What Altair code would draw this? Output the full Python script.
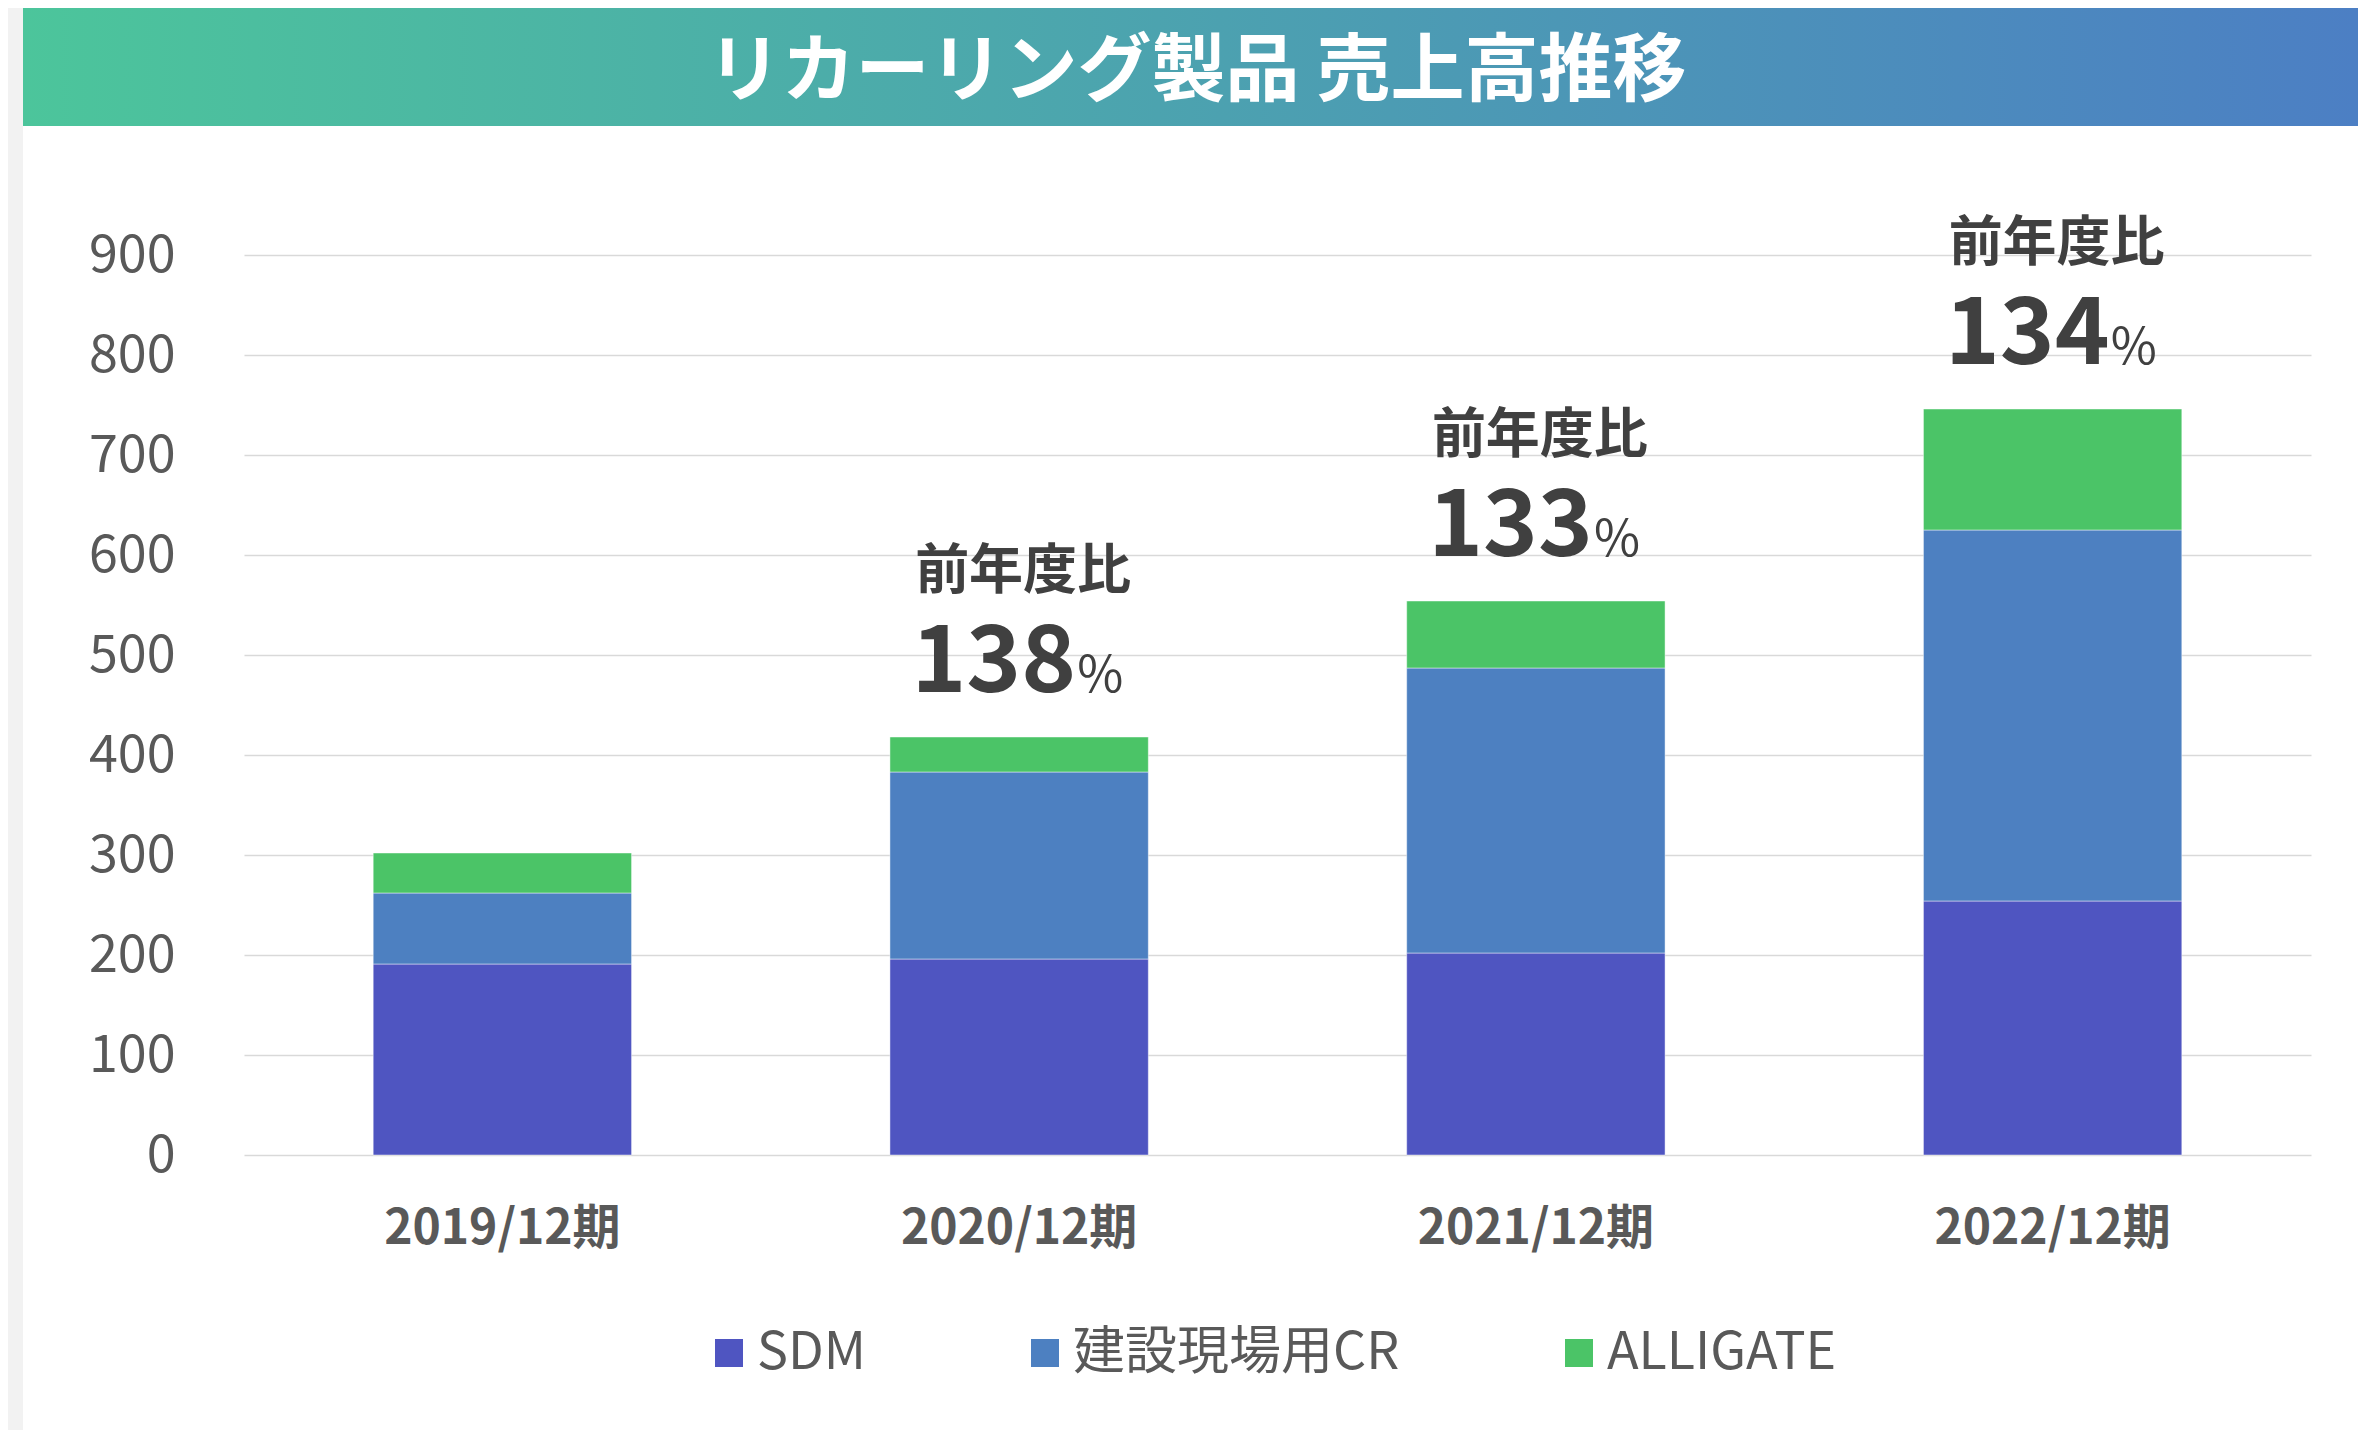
import altair as alt
import pandas as pd

# ---- data ----
periods = ["2019/12期", "2020/12期", "2021/12期", "2022/12期"]
series = ["SDM", "建設現場用CR", "ALLIGATE"]
sdm = [191, 196, 202, 254]
cr = [71, 187, 285, 371]
alligate = [40, 35, 67, 121]
yoy_pct = ["", "138", "133", "134"]
y_ticks = [0, 100, 200, 300, 400, 500, 600, 700, 800, 900]
title_text = "リカーリング製品 売上高推移"
ann_head = "前年度比"

# ---- style ----
FONT = "Noto Sans CJK JP"
colors = ["#4F55C1", "#4D80C1", "#4BC467"]
W, H = 2067, 900

rows = []
for i, p in enumerate(periods):
    for j, (s, vals) in enumerate(zip(series, [sdm, cr, alligate])):
        rows.append({"period": p, "series": s, "value": vals[i], "order": j})
df = pd.DataFrame(rows)

ann = pd.DataFrame({
    "period": periods[1:],
    "value": [sdm[i] + cr[i] + alligate[i] for i in range(1, len(periods))],
    "pct": yoy_pct[1:],
    "head": [ann_head] * (len(periods) - 1),
    "sign": ["%"] * (len(periods) - 1),
})
one = pd.DataFrame({"k": [0]})

x_scale = alt.Scale(paddingInner=0.5, paddingOuter=0.25)
x_axis = alt.Axis(title=None, labelAngle=0, labelFont=FONT, labelFontSize=48,
                  labelFontWeight="bold", labelColor="#595959", labelPadding=50,
                  labelLimit=0, ticks=False, tickSize=0, domain=False, grid=False)
y_scale = alt.Scale(domain=[0, 900], nice=False)
y_axis = alt.Axis(title=None, values=y_ticks, labelFont=FONT, labelFontSize=52,
                  labelColor="#595959", labelPadding=69, ticks=False, tickSize=0,
                  domain=False, grid=True, gridColor="#D9D9D9", gridWidth=1.5)

bars = alt.Chart(df).mark_bar(stroke="#FFFFFF", strokeWidth=1, strokeOpacity=0.45).encode(
    x=alt.X("period:N", sort=periods, scale=x_scale, axis=x_axis),
    y=alt.Y("value:Q", stack="zero", scale=y_scale, axis=y_axis),
    color=alt.Color(
        "series:N", sort=series,
        scale=alt.Scale(domain=series, range=colors),
        legend=alt.Legend(title=None, orient="none", legendX=459, legendY=1072,
                          direction="horizontal", symbolType="square", symbolSize=784,
                          symbolStrokeWidth=0, labelFont=FONT, labelFontSize=52,
                          labelColor="#595959", labelOffset=2, columnPadding=153,
                          padding=0, labelLimit=0),
    ),
    order=alt.Order("order:Q", sort="ascending"),
)

ann_base = alt.Chart(ann).encode(
    x=alt.X("period:N", sort=periods, scale=x_scale, axis=x_axis),
    y=alt.Y("value:Q", scale=y_scale, axis=y_axis),
)
head = ann_base.mark_text(font=FONT, fontSize=54, fontWeight="bold", color="#404040",
                          align="center", baseline="alphabetic", dx=4, dy=-148).encode(text="head:N")
num = ann_base.mark_text(font=FONT, fontSize=93, fontWeight="bold", color="#404040",
                         align="right", baseline="alphabetic", dx=57, dy=-45).encode(text="pct:N")
sign = ann_base.mark_text(font=FONT, fontSize=50, fontWeight="normal", color="#404040",
                          align="left", baseline="alphabetic", dx=58, dy=-45).encode(text="sign:N")

strip = alt.Chart(one).mark_rect(color="#F2F2F2").encode(
    x=alt.value(-236), x2=alt.value(-221), y=alt.value(-247), y2=alt.value(1175))
banner = alt.Chart(one).mark_rect(
    fill=alt.Gradient(gradient="linear",
                      stops=[alt.GradientStop(color="#4CC59B", offset=0),
                             alt.GradientStop(color="#4C7FC4", offset=1)],
                      x1=0, x2=1, y1=0, y2=0)
).encode(x=alt.value(-221), x2=alt.value(2114), y=alt.value(-247), y2=alt.value(-129))
title = alt.Chart(one).mark_text(text=title_text, font=FONT, fontSize=74, fontWeight="bold",
                                 color="#FFFFFF", align="center", baseline="alphabetic").encode(
    x=alt.value(953), y=alt.value(-160))

chart = alt.layer(strip, banner, title, bars, head, num, sign).properties(
    width=W, height=H,
    autosize=alt.AutoSizeParams(type="none"),
    padding={"left": 236, "top": 247, "right": 47, "bottom": 275},
    background="#FFFFFF",
).configure_view(stroke=None)

chart.save("out.html", embed_options={"renderer": "svg", "actions": False})
